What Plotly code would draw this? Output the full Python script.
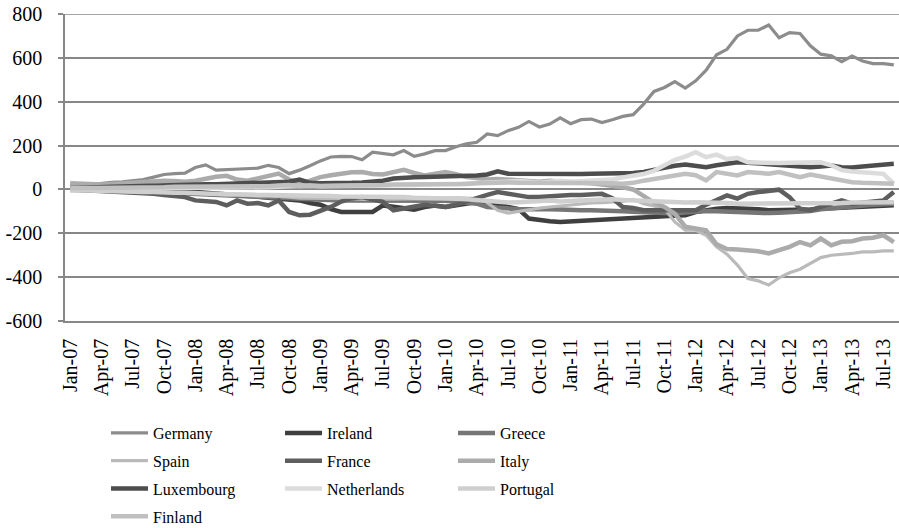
import pandas as pd
import plotly.graph_objects as go

months = list(pd.date_range("2007-01-01", periods=80, freq="MS").strftime("%b-%y"))
tick_labels = months[::3]
y_ticks = [-600, -400, -200, 0, 200, 400, 600, 800]
y_tick_text = ["-600", "-400", "-200", "0", "200", "400", "600", "800"]

germany = [20, 18, 22, 28, 32, 35, 40, 45, 56, 68, 72, 74,
           100, 112, 88, 90, 92, 95, 97, 110, 100, 72, 88, 108,
           130, 148, 151, 150, 135, 170, 163, 158, 177, 151, 162, 177,
           177, 195, 208, 215, 253, 245, 268, 283, 310, 285, 298, 326,
           300, 318, 321, 305, 318, 333, 341, 389, 447, 465, 492, 462,
           495, 544, 614, 639, 700, 726, 726, 750, 692, 715, 711, 655,
           617, 609, 583, 608, 586, 574, 574, 568]
ireland = [0, -2, -2, -3, -3, -5, -5, -5, -8, -8, -10, -10,
           -12, -15, -18, -20, -25, -28, -33, -38, -42, -45, -50, -62,
           -70, -90, -103, -103, -103, -103, -73, -80, -85, -92, -80, -73,
           -80, -72, -65, -57, -60, -65, -80, -90, -133, -141, -145, -148,
           -145, -141, -138, -135, -133, -131, -129, -127, -125, -122, -120, -118,
           -103, -95, -88, -85, -85, -88, -90, -95, -95, -95, -95, -92,
           -88, -85, -82, -80, -78, -76, -74, -72]
greece = [-3, -5, -5, -6, -8, -8, -10, -10, -12, -12, -15, -15,
          -18, -20, -22, -25, -28, -30, -32, -35, -38, -40, -42, -45,
          -48, -48, -50, -50, -50, -50, -52, -52, -50, -50, -48, -50,
          -52, -55, -60, -65, -80, -85, -88, -90, -90, -88, -90, -92,
          -95, -95, -95, -95, -98, -100, -102, -105, -108, -108, -110, -105,
          -100, -98, -100, -102, -104, -106, -108, -108, -106, -104, -100, -98,
          -90, -85, -80, -75, -72, -70, -68, -65]
spain = [0, -2, -3, -5, -5, -8, -10, -10, -12, -15, -15, -15,
         -18, -20, -22, -25, -25, -28, -30, -30, -32, -35, -40, -40,
         -40, -40, -42, -42, -45, -45, -45, -45, -45, -45, -42, -42,
         -40, -38, -40, -42, -60, -95, -108, -100, -95, -85, -80, -75,
         -70, -65, -62, -60, -58, -55, -45, -65, -75, -88, -148, -186,
         -186, -209, -262, -295, -345, -406, -417, -436, -403, -380, -364, -338,
         -311, -300, -297, -292, -285, -285, -280, -280]
france = [0, -2, -5, -5, -8, -10, -12, -15, -20, -25, -30, -35,
          -50, -55, -57, -73, -50, -65, -62, -73, -50, -103, -118, -115,
          -100, -80, -55, -40, -35, -45, -57, -95, -85, -80, -70, -75,
          -80, -70, -57, -40, -25, -12, -20, -30, -35, -35, -30, -25,
          -25, -25, -20, -20, -40, -80, -85, -95, -95, -95, -95, -95,
          -95, -70, -50, -27, -42, -20, -12, -5, -1, -35, -88, -95,
          -80, -60, -50, -65, -60, -55, -50, -12]
italy = [28, 25, 20, 22, 25, 28, 30, 33, 38, 40, 38, 35,
         40, 50, 58, 62, 45, 40, 52, 62, 72, 45, 30, 40,
         56, 65, 74, 78, 79, 70, 68, 80, 89, 75, 64, 72,
         79, 70, 56, 52, 45, 48, 45, 40, 38, 35, 40, 38,
         35, 30, 28, 22, 18, 10, 0, -30, -60, -80, -111, -170,
         -179, -186, -250, -272, -274, -277, -282, -292, -277, -262, -240, -255,
         -224, -255, -239, -236, -224, -220, -209, -240]
luxembourg = [5, 8, 10, 10, 12, 13, 15, 15, 18, 20, 20, 22,
              22, 24, 24, 25, 26, 26, 28, 28, 30, 35, 45, 30,
              28, 27, 28, 30, 32, 35, 40, 50, 55, 56, 57, 58,
              58, 60, 62, 64, 68, 83, 72, 71, 70, 70, 70, 70,
              70, 70, 71, 71, 72, 72, 75, 80, 90, 101, 108, 114,
              105, 101, 110, 118, 124, 122, 118, 115, 110, 108, 104, 101,
              104, 109, 101, 100, 105, 108, 110, 117]
netherlands = [-5, -3, 0, 0, 2, 2, 3, 5, 5, 5, 5, 5,
               8, 10, 10, 10, 8, 8, 10, 10, 12, 15, 20, 18,
               15, 15, 15, 15, 15, 18, 18, 20, 20, 20, 22, 25,
               25, 25, 28, 30, 30, 35, 35, 38, 35, 30, 35, 40,
               35, 38, 40, 40, 45, 55, 64, 70, 85, 110, 135, 150,
               170, 147, 159, 139, 144, 124, 122, 120, 120, 122, 124, 124,
               124, 110, 88, 82, 79, 77, 71, 26]
portugal = [-3, -5, -5, -8, -8, -10, -10, -12, -12, -15, -15, -15,
            -18, -20, -20, -22, -22, -25, -25, -25, -25, -28, -30, -30,
            -30, -30, -32, -32, -35, -35, -35, -35, -35, -38, -38, -40,
            -40, -42, -45, -50, -55, -60, -60, -58, -55, -50, -50, -55,
            -55, -50, -48, -45, -45, -48, -50, -52, -55, -58, -60, -60,
            -58, -58, -60, -62, -65, -65, -65, -66, -65, -64, -62, -62,
            -62, -62, -62, -60, -60, -58, -58, -58]
finland = [5, 5, 5, 8, 8, 8, 10, 10, 10, 10, 12, 12,
           10, 10, 10, 12, 12, 15, 15, 15, 18, 20, 15, 15,
           15, 15, 18, 18, 20, 20, 20, 22, 22, 25, 25, 25,
           25, 25, 25, 28, 30, 30, 32, 30, 30, 32, 32, 33,
           33, 33, 33, 30, 28, 26, 30, 40, 49, 55, 62, 71,
           65, 41, 79, 70, 64, 79, 75, 72, 79, 65, 56, 68,
           60, 49, 40, 33, 30, 28, 26, 26]

series = [
    ("Germany", germany, "#8c8c8c", 3.2, "legend"),
    ("Ireland", ireland, "#3f3f3f", 4.5, "legend2"),
    ("Greece", greece, "#767676", 4.5, "legend3"),
    ("Spain", spain, "#bababa", 3.2, "legend"),
    ("France", france, "#5e5e5e", 4.5, "legend2"),
    ("Italy", italy, "#ababab", 4.5, "legend3"),
    ("Luxembourg", luxembourg, "#4d4d4d", 4.5, "legend"),
    ("Netherlands", netherlands, "#dcdcdc", 4.5, "legend2"),
    ("Portugal", portugal, "#cfcfcf", 4.5, "legend3"),
    ("Finland", finland, "#c0c0c0", 4.5, "legend"),
]

FONT = "Liberation Serif"
GRID = "#878787"
W, H = 899, 528

fig = go.Figure()
for name, vals, color, width, leg in series:
    fig.add_trace(go.Scatter(
        x=months, y=vals, name=name, mode="lines",
        line=dict(color=color, width=width),
        legend=leg, legendgroup=name,
    ))

legend_common = dict(
    orientation="v", xref="container", yref="container",
    xanchor="left", yanchor="top", font=dict(family=FONT, size=16, color="black"),
    bgcolor="rgba(0,0,0,0)", itemwidth=37, tracegroupgap=4, traceorder="grouped",
)
leg_top = 1 - 416 / H

fig.update_layout(
    width=W, height=H,
    margin=dict(l=65, r=0, t=14, b=207, autoexpand=False),
    paper_bgcolor="white", plot_bgcolor="white",
    font=dict(family=FONT, color="black"),
    showlegend=True,
    legend=dict(legend_common, x=106 / W, y=leg_top),
    legend2=dict(legend_common, x=280 / W, y=leg_top),
    legend3=dict(legend_common, x=453 / W, y=leg_top),
    xaxis=dict(
        type="category", categoryorder="array", categoryarray=months,
        range=[-0.5, 79.5], tickmode="array", tickvals=tick_labels, ticktext=tick_labels,
        tickangle=-90, tickfont=dict(family=FONT, size=20, color="black"),
        showgrid=False, showline=True, linecolor=GRID, linewidth=1.5,
        ticks="", zeroline=False, automargin=False, ticklabelstandoff=8,
        ticklabeloverflow="allow",
    ),
    xaxis2=dict(
        overlaying="x", anchor="free", position=600 / 1400, range=[-0.5, 79.5],
        tickmode="array", tickvals=[2.5 + 3 * k for k in range(26)],
        showticklabels=False, ticks="outside", ticklen=4, tickwidth=1.2,
        tickcolor=GRID, showgrid=False, showline=False, zeroline=False,
    ),
    yaxis=dict(
        range=[-600, 800], tickmode="array", tickvals=y_ticks, ticktext=y_tick_text,
        tickfont=dict(family=FONT, size=20, color="black"),
        showgrid=True, gridcolor=GRID, gridwidth=1.5,
        showline=True, linecolor=GRID, linewidth=1.5,
        ticks="outside", ticklen=5, tickcolor=GRID, tickwidth=1.5,
        zeroline=False, automargin=False, ticklabelstandoff=12,
        ticklabeloverflow="allow",
    ),
    shapes=[dict(type="line", xref="paper", yref="y", x0=0, x1=1, y0=800, y1=800,
                 line=dict(color=GRID, width=1.5), layer="below")],
)

fig.write_html("out.html", config={"displayModeBar": False},
               post_script="document.body.style.margin='0px';")
